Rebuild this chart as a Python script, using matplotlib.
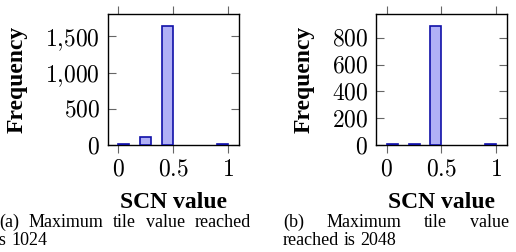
import matplotlib
matplotlib.use("Agg")
import matplotlib.pyplot as plt
from matplotlib.ticker import FuncFormatter

plt.rcParams['font.family'] = ['Liberation Serif', 'DejaVu Serif']
plt.rcParams['mathtext.fontset'] = 'cm'

# histogram data (bin left edges, width 0.1)
bin_left = [0.0, 0.2, 0.4, 0.9]
counts_1024 = [20, 105, 1645, 15]
counts_2048 = [8, 8, 890, 8]
bin_width = 0.1

x_ticks = [0, 0.5, 1]
y_ticks_1024 = [0, 500, 1000, 1500]
y_ticks_2048 = [0, 200, 400, 600, 800]

caption_a = [["(a)", "Maximum", "tile", "value", "reached"], ["is", "1024"]]
caption_b = [["(b)", "Maximum", "tile", "value"], ["reached", "is", "2048"]]

W, H = 516, 252
fig = plt.figure(figsize=(W / 100, H / 100), dpi=100)

FILL = '#b0b0f6'
EDGE = '#1010a8'


def num_fmt(v, pos):
    if float(v).is_integer():
        s = f'{int(v):,}'.replace(',', '{,}')
    else:
        s = f'{v:g}'
    return f'${s}$'


def make_panel(left_px, counts, yticks, ylabel_x_px):
    ax = fig.add_axes([left_px / W, 1 - 145 / H, 131.5 / W, 131 / H])
    ax.bar(bin_left, counts, width=bin_width, align='edge',
           color=FILL, edgecolor=EDGE, linewidth=1.2, zorder=3)
    ax.set_xlim(-0.1, 1.1)
    ax.set_ylim(0, max(counts) * 1.1)
    ax.set_xticks(x_ticks)
    ax.set_yticks(yticks)
    ax.xaxis.set_major_formatter(FuncFormatter(num_fmt))
    ax.yaxis.set_major_formatter(FuncFormatter(num_fmt))
    ax.tick_params(axis='x', which='both', top=True, bottom=True,
                   direction='out', length=5.5, width=0.8, color='0.4',
                   pad=5, labelsize=17)
    ax.tick_params(axis='y', which='both', left=True, right=True,
                   direction='in', length=5.5, width=0.8, color='0.4',
                   pad=5.4, labelsize=17)
    for sp in ax.spines.values():
        sp.set_linewidth(1.0)
        sp.set_color('black')
    ax.set_xlabel('SCN value', fontsize=17, fontweight='bold')
    ax.xaxis.set_label_coords(0.5, (145 - 208) / 131)
    ax.xaxis.label.set_va('baseline')
    ax.set_ylabel('Frequency', fontsize=17, fontweight='bold')
    ax.yaxis.set_label_coords((ylabel_x_px - left_px) / 131.5, 0.5)
    ax.yaxis.label.set_va('center')
    return ax


make_panel(107.5, counts_1024, y_ticks_1024, 17.5)
make_panel(375.7, counts_2048, y_ticks_2048, 304)

renderer = fig.canvas.get_renderer()


def justified_line(words, x0, x1, base_y, justify=True, fs=13):
    texts = [fig.text(0, 1 - base_y / H, w, fontsize=fs, va='baseline')
             for w in words]
    widths = [t.get_window_extent(renderer).width for t in texts]
    space = fs * 100 / 72 * 0.25
    if justify and len(words) > 1:
        space = (x1 - x0 - sum(widths)) / (len(words) - 1)
    x = x0
    for t, w in zip(texts, widths):
        t.set_x(x / W)
        x += w + space


justified_line(caption_a[0], -1, 251, 227)
justified_line(caption_a[1], -5, 0, 245, justify=False)
justified_line(caption_b[0], 283, 509, 227)
justified_line(caption_b[1], 283, 0, 245, justify=False)

fig.savefig('out.png', dpi=100)
